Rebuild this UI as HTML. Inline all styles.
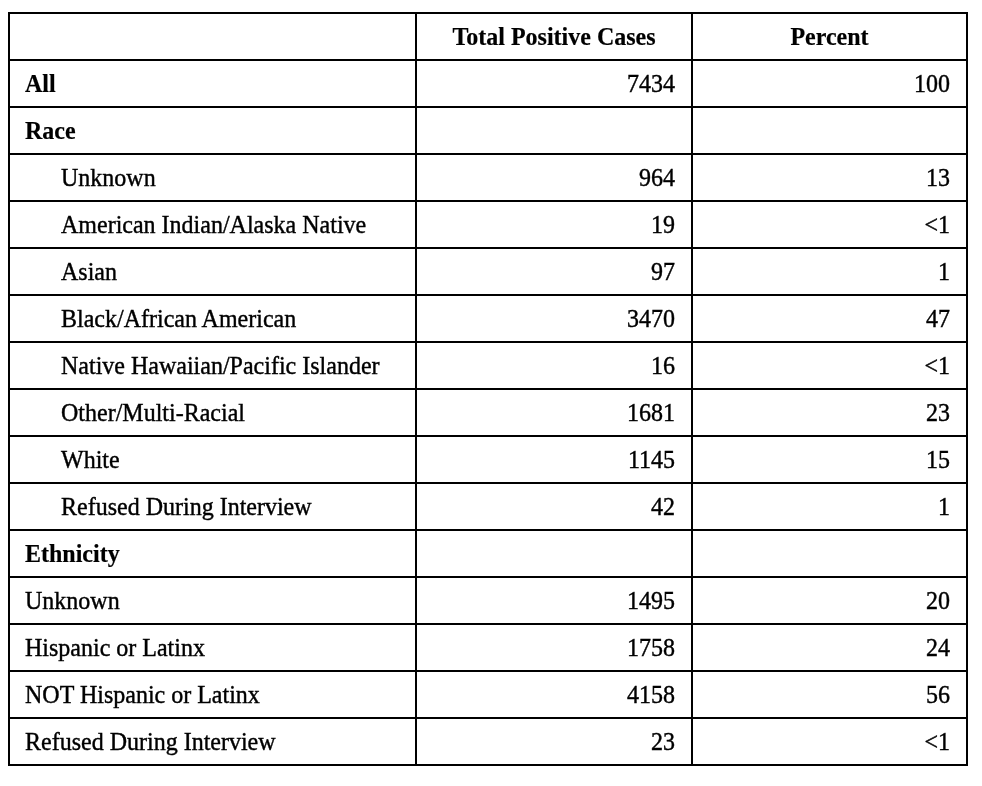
<!DOCTYPE html>
<html>
<head>
<meta charset="utf-8">
<style>
html, body { margin: 0; padding: 0; background: #fff; }
body { width: 982px; height: 786px; overflow: hidden; position: relative; }
table {
  position: absolute; left: 8px; top: 12px;
  border-collapse: collapse;
  font-family: "Liberation Serif", "Times New Roman", serif;
  font-size: 24px; color: #000;
  table-layout: fixed;
  will-change: transform;
}
td, th {
  border: 2px solid #000;
  height: 45px; padding: 2px 16px 0 15px; box-sizing: border-box;
  vertical-align: middle; line-height: normal;
}
tr { height: 47px; }
th { font-weight: bold; text-align: center; padding-left: 16px; padding-right: 16px; }
td.n { text-align: right; }
td.b { font-weight: bold; }
td.i { padding-left: 51px; }
td span, th span { -webkit-text-stroke: 0.4px #000; display: inline-block; transform: scaleY(1.06); transform-origin: 0 21.5px; }
th span, td.b span { transform: scaleY(1.03); -webkit-text-stroke: 0.2px #000; }
col.c1 { width: 407px; }
col.c2 { width: 276px; }
col.c3 { width: 275px; }
</style>
</head>
<body>
<table>
<colgroup><col class="c1"><col class="c2"><col class="c3"></colgroup>
<tr><th></th><th><span>Total Positive Cases</span></th><th><span>Percent</span></th></tr>
<tr><td class="b"><span>All</span></td><td class="n"><span>7434</span></td><td class="n"><span>100</span></td></tr>
<tr><td class="b"><span>Race</span></td><td></td><td></td></tr>
<tr><td class="i"><span>Unknown</span></td><td class="n"><span>964</span></td><td class="n"><span>13</span></td></tr>
<tr><td class="i"><span>American Indian/Alaska Native</span></td><td class="n"><span>19</span></td><td class="n"><span>&lt;1</span></td></tr>
<tr><td class="i"><span>Asian</span></td><td class="n"><span>97</span></td><td class="n"><span>1</span></td></tr>
<tr><td class="i"><span>Black/African American</span></td><td class="n"><span>3470</span></td><td class="n"><span>47</span></td></tr>
<tr><td class="i"><span>Native Hawaiian/Pacific Islander</span></td><td class="n"><span>16</span></td><td class="n"><span>&lt;1</span></td></tr>
<tr><td class="i"><span>Other/Multi-Racial</span></td><td class="n"><span>1681</span></td><td class="n"><span>23</span></td></tr>
<tr><td class="i"><span>White</span></td><td class="n"><span>1145</span></td><td class="n"><span>15</span></td></tr>
<tr><td class="i"><span>Refused During Interview</span></td><td class="n"><span>42</span></td><td class="n"><span>1</span></td></tr>
<tr><td class="b"><span>Ethnicity</span></td><td></td><td></td></tr>
<tr><td><span>Unknown</span></td><td class="n"><span>1495</span></td><td class="n"><span>20</span></td></tr>
<tr><td><span>Hispanic or Latinx</span></td><td class="n"><span>1758</span></td><td class="n"><span>24</span></td></tr>
<tr><td><span>NOT Hispanic or Latinx</span></td><td class="n"><span>4158</span></td><td class="n"><span>56</span></td></tr>
<tr><td><span>Refused During Interview</span></td><td class="n"><span>23</span></td><td class="n"><span>&lt;1</span></td></tr>
</table>
</body>
</html>
